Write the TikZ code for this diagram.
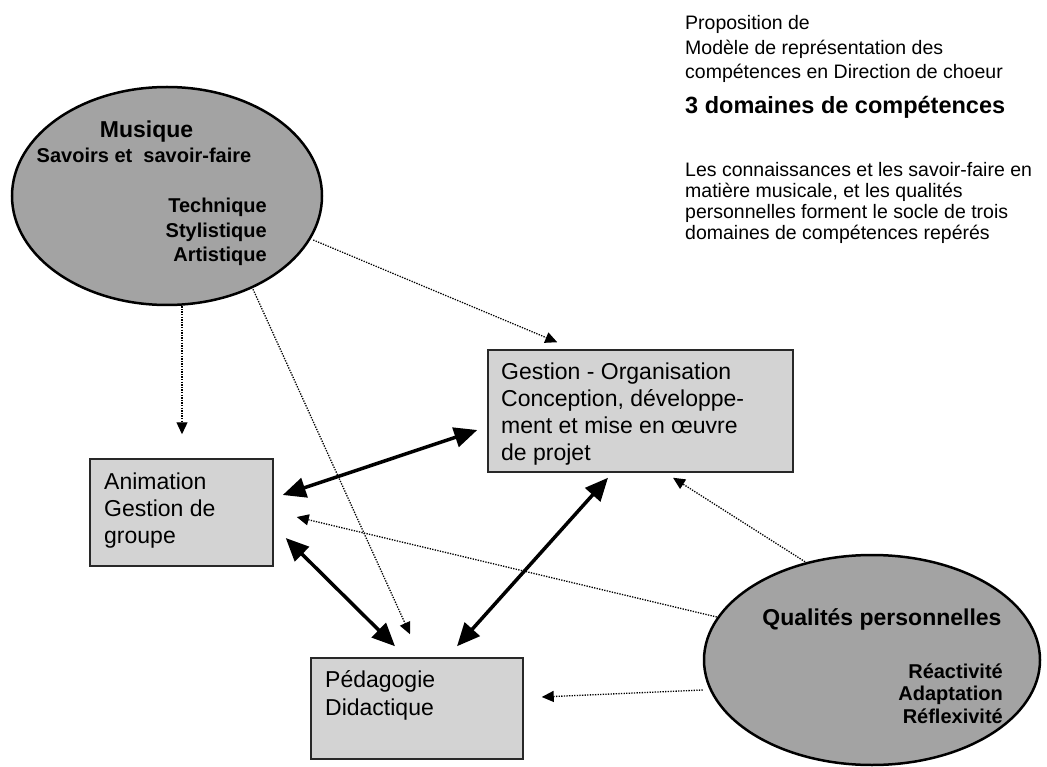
\documentclass[tikz,border=0pt]{standalone}
\usepackage{fontspec}
\setmainfont{Liberation Sans}
\usetikzlibrary{shapes.geometric,arrows.meta,calc}
\definecolor{ellgray}{RGB}{163,163,163}
\definecolor{boxgray}{RGB}{211,211,211}
\definecolor{boxline}{RGB}{40,40,40}
\newcommand{\fsz}[2]{\fontsize{#1}{#2}\selectfont}
\begin{document}
\begin{tikzpicture}[x=1pt,y=-1pt,
  ell/.style={ellipse, draw=black, line width=2.5pt, fill=ellgray, inner sep=0pt},
  box/.style={rectangle, draw=boxline, line width=1.5pt, fill=boxgray, inner sep=0pt},
  txt/.style={inner sep=0pt, align=left, anchor=base west},
  rtxt/.style={inner sep=0pt, align=right, anchor=base east},
  ctxt/.style={inner sep=0pt, anchor=base},
  bigarrow/.style={line width=3.5pt, arrows={Triangle[length=23pt,width=20pt]-Triangle[length=23pt,width=20pt]}},
  dotarrow/.style={line width=1.3pt, dash pattern=on 1.3pt off 1.3pt, arrows={-Triangle[length=12pt,width=11pt]}}
]
\useasboundingbox (0,0) rectangle (1047,767);

% shapes
\node[ell, minimum width=310pt, minimum height=218pt] (mus) at (167,196) {};
\node[ell, minimum width=336pt, minimum height=210pt] (qua) at (872,660) {};
\node[box, minimum width=305pt, minimum height=122pt] (ges) at (640.5,411) {};
\node[box, minimum width=183pt, minimum height=107pt] (ani) at (181.5,512.5) {};
\node[box, minimum width=212pt, minimum height=101pt] (ped) at (417,708.5) {};

% texts top right (anchor = baseline of the last line)
\node[txt, font=\fsz{19.5}{24.5}] (prop) at (685,79) {Proposition de\\Modèle de représentation des\\compétences en Direction de choeur};
\node[txt, font=\bfseries\fsz{23.5}{28}] (dom) at (685,114) {3 domaines de compétences};
\node[txt, font=\fsz{19.5}{21}] (soc) at (685,240) {Les connaissances et les savoir-faire en\\matière musicale, et les qualités\\personnelles forment le socle de trois\\domaines de compétences repérés};

% ellipse texts
\node[ctxt, font=\bfseries\fsz{23}{26}] (musT) at (146.5,138) {Musique};
\node[ctxt, font=\bfseries\fsz{20}{24}] (musS) at (144,163) {Savoirs et\ \ savoir-faire};
\node[rtxt, font=\bfseries\fsz{20}{24.5}] (musL) at (267,262) {Technique\\Stylistique\\Artistique};
\node[ctxt, font=\bfseries\fsz{23}{26}] (quaT) at (882,625) {Qualités personnelles};
\node[rtxt, font=\bfseries\fsz{20}{22.5}] (quaL) at (1003,723) {Réactivité\\Adaptation\\Réflexivité};

% box texts
\node[txt, font=\fsz{23}{26.7}] (gesT) at (501,460) {Gestion - Organisation\\Conception, développe-\\ment et mise en œuvre\\de projet};
\node[txt, font=\fsz{23}{27}] (aniT) at (104,543) {Animation\\Gestion de\\groupe};
\node[txt, font=\fsz{23}{28}] (pedT) at (325,715) {Pédagogie\\Didactique};

% connectors
\draw[dotarrow] ($(mus.east)+(-10,44)$) -- ($(ges.north west)+(70,-7)$);
\draw[dotarrow] ($(mus.south)+(86,-17)$) -- ($(ped.north)+(-7,-23)$);
\draw[dotarrow] ($(mus.south)+(15,0)$) -- ($(ani.north)+(0.5,-24)$);
\draw[bigarrow] ($(ani.east)+(9,-17.5)$) -- ($(ges.west)+(-10,19)$);
\draw[dotarrow] ($(qua.west)+(14,-43)$) -- ($(ani.east)+(23,4.5)$);
\draw[bigarrow] ($(ani.east)+(12,25.5)$) -- ($(ped.north)+(-22,-11)$);
\draw[bigarrow] ($(ped.north)+(40,-11)$) -- ($(ges.south)+(-32.5,5)$);
\draw[dotarrow] ($(qua.north)+(-67,8)$) -- ($(ges.south)+(32.5,5)$);
\draw[dotarrow] ($(qua.west)+(0,30)$) -- ($(ped.east)+(18,-11.5)$);
\end{tikzpicture}
\end{document}
